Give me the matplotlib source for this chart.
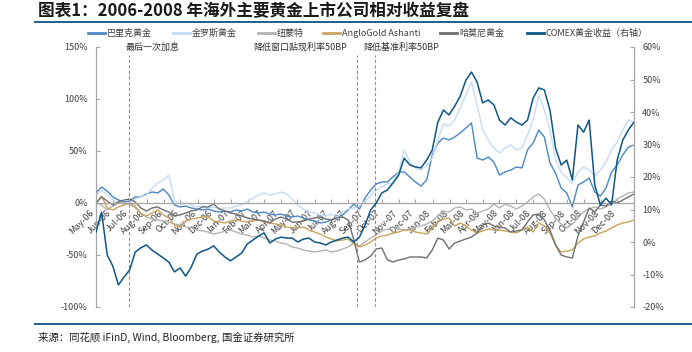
import matplotlib
matplotlib.use("Agg")

import matplotlib.pyplot as plt
import matplotlib.dates as mdates
from matplotlib.lines import Line2D
import pandas as pd

plt.rcParams['font.family'] = ['Noto Sans CJK SC', 'DejaVu Sans']
plt.rcParams['axes.unicode_minus'] = False

# 约每10天一个点 (2006-05 ~ 2008-12)
dates = pd.date_range("2006-05-01", "2008-12-31", periods=97)

# 左轴: 公司相对收益 (%)
barrick = [9.6, 15.4, 11.5, 5.8, 2.9, 1.0, 1.9, 5.8, 5.8, 8.7,
           10.6, 9.6, 13.5, 7.7, -1.9, -3.8, -2.9, -4.8, -5.8, -6.7,
           -5.8, -7.7, -8.7, -7.7, -8.7, -6.7, -7.7, -5.8, -8.7, -9.6,
           -8.7, -10.6, -11.5, -10.6, -12.5, -13.5, -12.5, -14.4, -16.3, -17.3,
           -19.2, -18.3, -16.3, -13.5, -11.5, -6.7, -1.0, -5.8, 4.8, 12.5,
           18.3, 20.2, 20.2, 25.0, 29.8, 29.8, 25.0, 20.2, 16.3, 22.1,
           46.2, 57.7, 62.5, 60.6, 63.5, 67.3, 72.1, 76.9, 43.3, 41.3,
           44.2, 39.4, 26.9, 29.8, 31.7, 34.6, 33.7, 51.0, 57.7, 70.2,
           63.5, 38.5, 28.8, 14.4, 9.6, -3.8, 17.3, 20.2, 24.0, 10.6,
           6.7, 14.4, 29.8, 36.5, 46.2, 53.8, 55.8]
kinross = [7.7, 12.5, 7.7, 2.9, 0.0, -1.0, 1.0, 3.8, 5.8, 7.7,
           14.4, 19.2, 22.1, 26.9, 2.9, -1.0, 0.0, -1.9, -3.8, -2.9,
           -4.8, -3.8, -5.8, -4.8, -4.8, -2.9, -1.9, 1.0, 4.8, 7.7,
           9.6, 7.7, 8.7, 10.6, 8.7, 3.8, -1.9, -5.8, -8.7, -9.6,
           -11.5, -12.5, -10.6, -13.5, -8.7, -5.8, -4.8, -2.9, 1.9, 6.7,
           12.5, 15.4, 18.3, 19.2, 29.8, 51.0, 39.4, 33.7, 31.7, 35.6,
           43.3, 60.6, 76.0, 74.0, 79.8, 91.3, 103.8, 116.3, 94.2, 70.2,
           60.6, 52.9, 48.1, 52.9, 55.8, 51.0, 52.9, 65.4, 79.8, 103.8,
           89.4, 70.2, 41.3, 29.8, 24.0, 19.2, 29.8, 34.6, 31.7, 26.0,
           31.7, 39.4, 51.0, 58.7, 70.2, 79.8, 77.9]
newmont = [0.0, -1.9, -6.7, -2.9, 0.0, 0.0, -1.0, -4.8, -9.6, -13.5,
           -15.4, -16.3, -17.3, -18.3, -20.2, -21.2, -23.1, -24.0, -26.0, -26.9,
           -27.9, -29.8, -28.8, -26.9, -26.0, -27.9, -29.8, -30.8, -32.7, -31.7,
           -33.7, -35.6, -36.5, -38.5, -39.4, -42.3, -43.3, -45.2, -46.2, -47.1,
           -46.2, -45.2, -47.1, -46.2, -44.2, -42.3, -38.5, -41.3, -37.5, -33.7,
           -30.8, -26.9, -25.0, -23.1, -25.0, -26.0, -25.0, -23.1, -22.1, -20.2,
           -17.3, -12.5, -7.7, -8.7, -4.8, -3.8, -6.7, -5.8, -9.6, -7.7,
           -5.8, -1.0, -4.8, -1.0, -2.9, -5.8, -2.9, 1.0, 5.8, 8.7,
           3.8, -6.7, -14.4, -20.2, -24.0, -20.2, -14.4, -8.7, -5.8, -3.8,
           -5.8, -3.8, -1.0, 3.8, 6.7, 9.6, 10.6]
anglogold = [0.0, 6.7, -4.8, -6.7, -3.8, -1.9, 0.0, -2.9, -10.6, -12.5,
             -9.6, -6.7, -11.5, -14.4, -21.2, -23.1, -17.3, -15.4, -14.4, -13.5,
             -13.5, -17.3, -18.3, -19.2, -17.3, -16.3, -17.3, -18.3, -17.3, -16.3,
             -18.3, -19.2, -20.2, -21.2, -23.1, -24.0, -24.0, -23.1, -26.0, -27.9,
             -29.8, -32.7, -34.6, -36.5, -35.6, -34.6, -39.4, -42.3, -40.4, -37.5,
             -33.7, -31.7, -30.8, -28.8, -27.9, -26.0, -26.0, -27.9, -28.8, -29.8,
             -24.0, -18.3, -15.4, -14.4, -22.1, -19.2, -22.1, -26.0, -28.8, -26.9,
             -25.0, -26.0, -26.0, -26.9, -27.9, -28.8, -26.0, -23.1, -27.9, -19.2,
             -22.1, -28.8, -40.4, -47.1, -46.2, -45.2, -38.5, -34.6, -32.7, -31.7,
             -28.8, -26.9, -24.0, -21.2, -19.2, -18.3, -16.3]
harmony = [0.0, 5.8, 1.9, -1.9, 1.0, 2.9, 3.8, 1.0, -4.8, -7.7,
           -4.8, -3.8, -6.7, -8.7, -12.5, -11.5, -9.6, -7.7, -6.7, -3.8,
           -3.8, -1.0, -5.8, -7.7, -9.6, -10.6, -12.5, -14.4, -15.4, -16.3,
           -17.3, -19.2, -15.4, -13.5, -15.4, -18.3, -18.3, -17.3, -15.4, -14.4,
           -13.5, -15.4, -16.3, -14.4, -13.5, -16.3, -35.6, -56.7, -54.8, -51.0,
           -44.2, -43.3, -54.8, -56.7, -54.8, -53.8, -51.9, -51.9, -51.9, -52.9,
           -45.2, -33.7, -35.6, -44.2, -38.5, -36.5, -34.6, -32.7, -28.8, -21.2,
           -19.2, -22.1, -23.1, -24.0, -27.9, -26.9, -26.0, -18.3, -11.5, -10.6,
           -16.3, -26.0, -40.4, -50.0, -51.9, -52.9, -31.7, -18.3, -4.8, -8.7,
           -1.9, -2.9, 1.9, 0.0, 2.9, 5.8, 8.7]

# 右轴: COMEX黄金收益 (%)
comex = [3.1, 9.2, -4.0, -7.4, -13.2, -10.8, -8.6, -3.1, -1.8, -0.9,
         -2.5, -3.7, -4.9, -6.2, -9.2, -8.0, -10.5, -7.7, -3.7, -2.8,
         -2.2, -1.2, -3.1, -4.6, -5.8, -4.6, -3.4, -0.6, 0.6, 1.8,
         2.8, -0.3, 0.9, 1.5, 1.2, 1.2, 0.0, 0.9, 1.2, 0.0,
         -0.3, -0.9, 0.0, 0.6, 1.2, 1.5, 0.0, 1.5, 5.2, 9.8,
         12.0, 15.1, 16.0, 18.2, 20.6, 25.8, 23.7, 23.1, 22.8, 25.2,
         28.3, 36.9, 40.6, 39.1, 41.8, 44.9, 49.8, 52.3, 49.2, 42.8,
         43.7, 42.2, 37.5, 36.0, 38.2, 36.9, 36.0, 37.5, 44.3, 47.4,
         46.8, 40.6, 28.9, 23.7, 25.2, 19.1, 36.0, 33.8, 37.5, 17.5,
         11.4, 13.5, 11.4, 25.2, 31.4, 34.5, 36.9]

left_series = [
    ("巴里克黄金", barrick, "#4a86c8"),
    ("金罗斯黄金", kinross, "#c6dcf1"),
    ("纽蒙特", newmont, "#b3b3b3"),
    ("AngloGold Ashanti", anglogold, "#c9a45c"),
    ("哈莫尼黄金", harmony, "#6f6f6f"),
]
comex_label = "COMEX黄金收益（右轴）"
comex_color = "#0d5686"

events = [
    (pd.Timestamp("2006-06-29"), "最后一次加息", "left", -2),
    (pd.Timestamp("2007-08-17"), "降低窗口贴现利率50BP", "right", -7),
    (pd.Timestamp("2007-09-18"), "降低基准利率50BP", "left", -8),
]

text_c = "#404040"
grid_c = "#a6a6a6"

fig = plt.figure(figsize=(6.92, 3.52), dpi=100)
ax = fig.add_axes([96 / 692, 1 - 307 / 352, 538 / 692, 260 / 352])
ax2 = ax.twinx()

for name, vals, color in left_series:
    ax.plot(dates, vals, color=color, lw=1.0, label=name)
ax2.plot(dates, comex, color=comex_color, lw=1.1, label=comex_label)

ax.set_ylim(-100, 150)
ax2.set_ylim(-20, 60)
ax.set_xlim(pd.Timestamp("2006-05-01"), pd.Timestamp("2008-12-31"))

ax.set_yticks([-100, -50, 0, 50, 100, 150])
ax.set_yticklabels([f"{v}%" for v in [-100, -50, 0, 50, 100, 150]])
ax2.set_yticks([-20, -10, 0, 10, 20, 30, 40, 50, 60])
ax2.set_yticklabels([f"{v}%" for v in [-20, -10, 0, 10, 20, 30, 40, 50, 60]])

# x轴放在0%处
ax.spines["bottom"].set_position(("data", 0))
for a in (ax, ax2):
    for s in ("top", "bottom", "left", "right"):
        a.spines[s].set_color(grid_c)
        a.spines[s].set_linewidth(0.9)
    a.spines["top"].set_visible(False)
ax2.spines["bottom"].set_visible(False)
ax.spines["right"].set_visible(False)
ax2.spines["left"].set_visible(False)

ax.xaxis.set_major_locator(mdates.MonthLocator())
ax.xaxis.set_major_formatter(mdates.DateFormatter("%b-%y"))
ax.tick_params(axis="x", direction="in", length=3, color=grid_c, pad=4,
               labelsize=6.5, labelcolor=text_c)
for lbl in ax.get_xticklabels():
    lbl.set_rotation(45)
    lbl.set_ha("right")
    lbl.set_va("top")
ax.tick_params(axis="y", direction="in", length=3, color=grid_c, pad=6,
               labelsize=6.5, labelcolor=text_c)
ax2.tick_params(axis="y", direction="in", length=3, color=grid_c, pad=6,
                labelsize=6.5, labelcolor=text_c)

# 事件竖线和标注
for d, txt, ha, dx in events:
    ax.axvline(d, ymin=0, ymax=0.97, color="#e46c6c", lw=0.8, ls=(0, (3, 2)))
    ax.annotate(txt, xy=(d, 1.0), xycoords=("data", "axes fraction"),
                xytext=(dx, 0), textcoords="offset points", ha=ha, va="center",
                fontsize=6.5, color="#333333")

# 图例 (手动排布)
legend_x = [88, 173, 258, 323, 440, 527]
legend_items = left_series + [(comex_label, comex, comex_color)]
for x0, (name, _, color) in zip(legend_x, legend_items):
    fig.add_artist(Line2D([x0 / 692, (x0 + 17) / 692], [1 - 33 / 352] * 2,
                          color=color, lw=2, transform=fig.transFigure))
    fig.text((x0 + 19) / 692, 1 - 33 / 352, name, fontsize=6.5, color=text_c,
             ha="left", va="center")

# 标题、分隔线与来源
fig.text(38 / 692, 1 - 11 / 352, "图表1：2006-2008 年海外主要黄金上市公司相对收益复盘",
         fontsize=12, fontweight="bold", fontstyle="italic", color="#1a1a1a",
         ha="left", va="center")
fig.add_artist(Line2D([35 / 692, 1.0], [1 - 22 / 352] * 2, color="#1f5f8b",
                      lw=1.4, transform=fig.transFigure))
fig.add_artist(Line2D([35 / 692, 1.0], [1 - 324 / 352] * 2, color="#1f5f8b",
                      lw=1.4, transform=fig.transFigure))
fig.text(38 / 692, 1 - 337 / 352, "来源：同花顺 iFinD, Wind, Bloomberg, 国金证券研究所",
         fontsize=7.5, color="#222222", ha="left", va="center")

fig.savefig("out.png", dpi=100)
plt.close(fig)
